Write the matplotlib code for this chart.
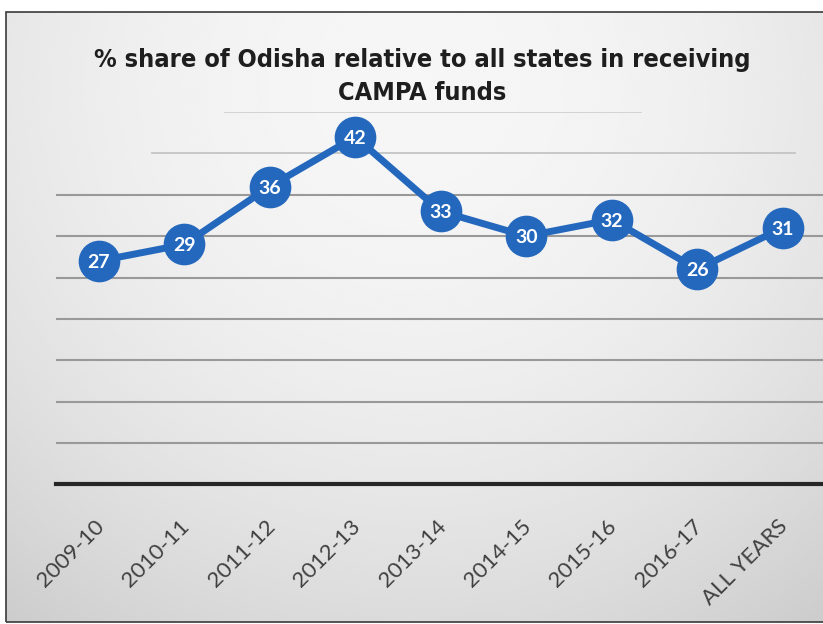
#!/usr/bin/env python3
# -*-coding:utf-8-*-
import numpy as np
import matplotlib
matplotlib.use('Agg')
import matplotlib.pyplot as plt
import matplotlib.transforms as mtransforms
from matplotlib.patches import Rectangle
from matplotlib import font_manager

years = ['2009-10', '2010-11', '2011-12', '2012-13', '2013-14',
         '2014-15', '2015-16', '2016-17', 'ALL YEARS']
share = [27, 29, 36, 42, 33, 30, 32, 26, 31]
grid_levels = [5, 10, 15, 20, 25, 30, 35]

blue = '#2468bd'
label_font = ['Lato', 'DejaVu Sans']

# look for a condensed bold face for the title
cond = sorted(f for f in font_manager.findSystemFonts()
              if 'Condensed-Bold' in f or 'SansNarrow-Bold' in f)
print(cond)
title_prop = font_manager.FontProperties(fname=cond[0], size=18.2) if cond else \
    font_manager.FontProperties(family='Lato', weight='bold', size=19)

fig = plt.figure(figsize=(8.23, 6.24), dpi=100)
fig.patch.set_facecolor('white')

# photo-like grey gradient behind the chart
bg = fig.add_axes([0, 0, 1, 1], zorder=-10)
bg.set_axis_off()
yy, xx = np.mgrid[0:1:300j, 0:1:400j]
r2 = ((xx - 0.5) / 0.8) ** 2 + ((yy - 0.12) / 1.05) ** 2
grad = np.clip(0.965 - 0.15 * r2, 0, 1)
bg.imshow(grad, cmap='gray', vmin=0, vmax=1, aspect='auto',
          extent=[6 / 823, 1, 2 / 624, 1 - 12 / 624], origin='upper',
          interpolation='bicubic')
bg.set_xlim(0, 1)
bg.set_ylim(0, 1)
bg.add_patch(Rectangle((6 / 823, 2 / 624), 1.2, 1 - 14 / 624, fill=False,
                       edgecolor='#3a3a3a', lw=1.2))

ax = fig.add_axes([56 / 823, 139.7 / 624, 769.5 / 823, 372.2 / 624])
ax.patch.set_alpha(0)
x = np.arange(len(years))

for g in grid_levels:
    ax.axhline(g, color='#999999', lw=1.5, zorder=1)
# faded upper gridlines (glare in the picture)
ax.axhline(40, xmin=0.125, xmax=0.96, color='#c4c4c4', lw=1.3, zorder=1)
ax.axhline(45, xmin=0.22, xmax=0.76, color='#d0d0d0', lw=1.3, zorder=1)

ax.plot(x, share, color=blue, lw=5, marker='o', ms=29,
        markerfacecolor=blue, markeredgecolor=blue, zorder=3,
        solid_capstyle='round')
for xi, v in zip(x, share):
    ax.text(xi, v, str(v), ha='center', va='center_baseline', color='white',
            fontsize=14, fontweight='bold', family=label_font, zorder=4)

ax.set_xlim(-0.5, 8.5)
ax.set_ylim(0, 45)
ax.set_yticks([])
for s in ['top', 'left', 'right']:
    ax.spines[s].set_visible(False)
ax.spines['bottom'].set_color('#262626')
ax.spines['bottom'].set_linewidth(3)
ax.spines['bottom'].set_zorder(2)
ax.set_xticks(x)
ax.set_xticklabels(years, rotation=45, ha='right', va='center',
                   rotation_mode='anchor', fontsize=16, color='#404040',
                   family=label_font)
ax.tick_params(axis='x', length=0, pad=28)
shift = mtransforms.ScaledTranslation(2 / 100, 0, fig.dpi_scale_trans)
for lab in ax.get_xticklabels():
    lab.set_transform(lab.get_transform() + shift)

fig.text(0.513, 1 - 67 / 624, '% share of Odisha relative to all states in receiving',
         ha='center', va='baseline', color='#1e1e1e', fontproperties=title_prop)
fig.text(0.513, 1 - 100 / 624, 'CAMPA funds',
         ha='center', va='baseline', color='#1e1e1e', fontproperties=title_prop)

fig.savefig('out.png', dpi=100)
